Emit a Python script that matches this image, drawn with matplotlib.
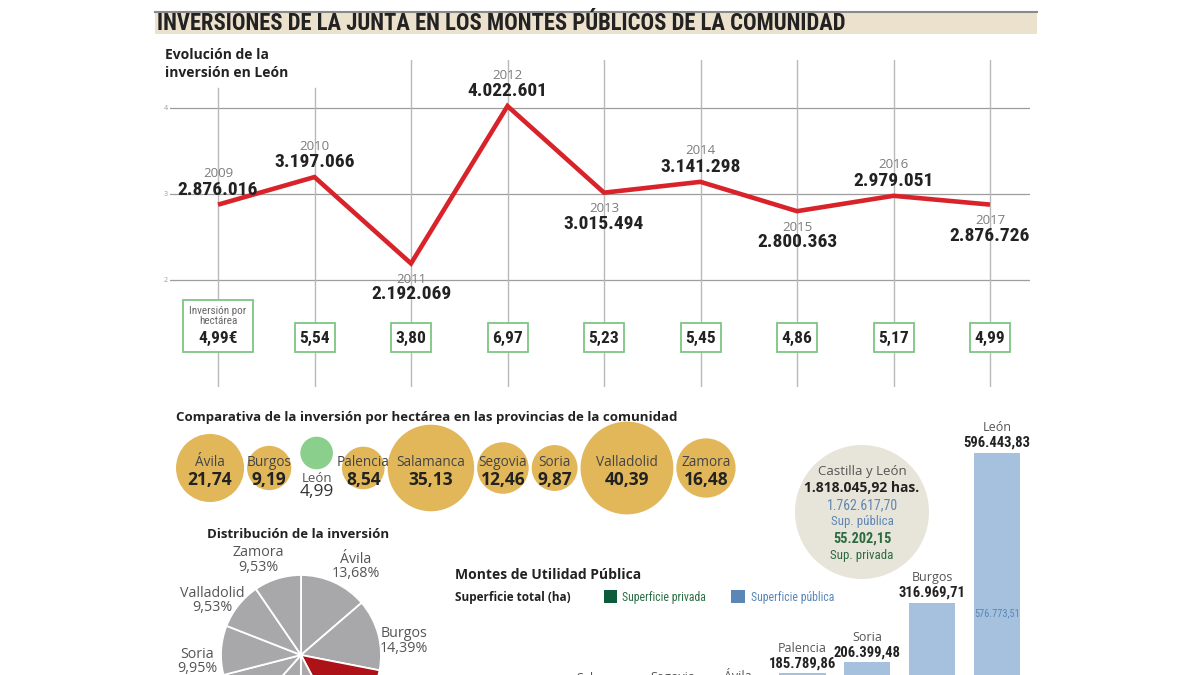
import matplotlib
matplotlib.use("Agg")
import matplotlib.pyplot as plt
from matplotlib.patches import Rectangle, Circle
from matplotlib import font_manager as fm
import numpy as np

# ---------------- data ----------------
years = ["2009", "2010", "2011", "2012", "2013", "2014", "2015", "2016", "2017"]
investment_eur = [2876016, 3197066, 2192069, 4022601, 3015494, 3141298, 2800363, 2979051, 2876726]
investment_per_ha = [4.99, 5.54, 3.80, 6.97, 5.23, 5.45, 4.86, 5.17, 4.99]

provinces = ["Ávila", "Burgos", "León", "Palencia", "Salamanca", "Segovia", "Soria", "Valladolid", "Zamora"]
province_per_ha = [21.74, 9.19, 4.99, 8.54, 35.13, 12.46, 9.87, 40.39, 16.48]
investment_share = [13.68, 14.39, 14.21, 7.84, 11.47, 9.40, 9.95, 9.53, 9.53]

bar_provinces = ["Valladolid", "Zamora", "Salamanca", "Segovia", "Ávila", "Palencia", "Soria", "Burgos", "León"]
surface_total = [51309.39, 64550.20, 129880.55, 132420.10, 134281.80, 185789.86, 206399.48, 316969.71, 596443.83]
surface_private = [1200.00, 2350.50, 3100.25, 4020.40, 3560.18, 5410.30, 6890.20, 9000.00, 19670.32]

cyl_total = 1818045.92
cyl_public = 1762617.70
cyl_private = 55202.15

# ---------------- fonts ----------------
_avail = {f.name for f in fm.fontManager.ttflist}


def pick(cands):
    for c in cands:
        if c in _avail:
            return c
    return "DejaVu Sans"


NARROW = pick(["Liberation Sans Narrow", "Roboto Condensed", "DejaVu Sans"])
SANS = pick(["Open Sans", "Lato", "DejaVu Sans"])
plt.rcParams["font.family"] = [SANS, "DejaVu Sans"]
NARROW_F = [NARROW, "DejaVu Sans"]


def es_num(v, dec=0):
    s = f"{v:,.{dec}f}"
    return s.replace(",", "X").replace(".", ",").replace("X", ".")


# ---------------- figure ----------------
W, H = 1200, 675
fig = plt.figure(figsize=(12, 6.75), dpi=100)
fig.patch.set_facecolor("white")


def px_axes(l, t, r, b):
    ax = fig.add_axes([l / W, 1 - b / H, (r - l) / W, (b - t) / H])
    ax.set_axis_off()
    ax.patch.set_alpha(0)
    return ax


canvas = px_axes(0, 0, W, H)
canvas.set_xlim(0, W)
canvas.set_ylim(H, 0)

DARK = "#222222"
GREY = "#555555"

# title band
canvas.add_patch(Rectangle((155, 12), 882, 22, facecolor="#ebe1cd", edgecolor="none"))
canvas.plot([155, 1037], [11.5, 11.5], color="#8a8a8a", lw=1.5)
canvas.text(157, 23.5, "INVERSIONES DE LA JUNTA EN LOS MONTES PÚBLICOS DE LA COMUNIDAD",
            family=NARROW_F, fontweight="bold", fontsize=16.3, color=DARK, va="center", ha="left")

# ---------------- line chart ----------------
X0, DX = 218, 96.5
Y4, DY = 108, 86


def v_of(py):
    return 4 - (py - Y4) / DY


lc = px_axes(170, 60, 1030, 387)
lc.set_xlim(-(X0 - 170) / DX, (1030 - X0) / DX)
lc.set_ylim(v_of(387), v_of(60))
xs = np.arange(len(years))
vals = np.array(investment_eur) / 1e6

for g in (2, 3, 4):
    lc.axhline(g, color="#9d9d9d", lw=0.9, zorder=1)
    lc.text(lc.get_xlim()[0] - 0.02, g, str(g), ha="right", va="center", fontsize=5, color="#9a9a9a")
for i in xs:
    top = v_of(88) if i < 2 else v_of(60)
    lc.plot([i, i], [v_of(387), top], color="#b9b9b9", lw=1.0, zorder=1)

lc.plot(xs, vals, color="#d9232b", lw=3.3, zorder=3, solid_joinstyle="miter", solid_capstyle="butt")

label_side = [1, 1, -1, 1, -1, 1, -1, 1, -1]
for i, (yr, inv, v, s) in enumerate(zip(years, investment_eur, vals, label_side)):
    if s > 0:
        yoff, voff = 31, 15
    else:
        yoff, voff = -16, -31
    lc.annotate(yr, (i, v), xytext=(0, yoff * 0.72), textcoords="offset points",
                ha="center", va="center", fontsize=9.5, color="#7c7c7c", zorder=5)
    lc.annotate(es_num(inv), (i, v), xytext=(0, voff * 0.72), textcoords="offset points",
                ha="center", va="center", fontsize=14, fontweight="bold", family=NARROW_F,
                color=DARK, zorder=5)

for i, val in enumerate(investment_per_ha):
    if i == 0:
        w, top = 70 / DX, v_of(300)
    else:
        w, top = 40 / DX, v_of(323)
    bot = v_of(352)
    lc.add_patch(Rectangle((i - w / 2, bot), w, top - bot, facecolor="white",
                           edgecolor="#7fc583", lw=1.3, zorder=4))
    label = es_num(val, 2) + ("€" if i == 0 else "")
    lc.text(i, v_of(338), label, ha="center", va="center", fontsize=12.5, fontweight="bold",
            family=NARROW_F, color=DARK, zorder=5)
    if i == 0:
        lc.text(i, v_of(316), "Inversión por\nhectárea", ha="center", va="center", fontsize=8,
                family=NARROW_F, color="#666666", linespacing=0.95, zorder=5)

canvas.text(165, 64, "Evolución de la\ninversión en León", va="center", ha="left", fontsize=10,
            fontweight="bold", color=DARK, linespacing=1.3)

# ---------------- bubbles ----------------
canvas.text(176, 418, "Comparativa de la inversión por hectárea en las provincias de la comunidad",
            fontsize=9.5, fontweight="bold", color=DARK, va="center", ha="left")
K = 7.3
radii = K * np.sqrt(province_per_ha)
cy = 468
x = 176.0
for i, (name, v, r) in enumerate(zip(provinces, province_per_ha, radii)):
    if i > 0:
        x += 9 if (name == "León" or provinces[i - 1] == "León") else 3
    x += r
    if name == "León":
        canvas.add_patch(Circle((x, 453), r, facecolor="#8bcf8c", edgecolor="none"))
        canvas.text(x, 478, name, ha="center", va="center", fontsize=9.5, color=GREY)
        canvas.text(x, 492, es_num(v, 2), ha="center", va="center", fontsize=12.5, color="#333333")
    else:
        canvas.add_patch(Circle((x, cy), r, facecolor="#e2b75a", edgecolor="none"))
        canvas.text(x, cy - 5, name, ha="center", va="center", fontsize=9.8, color="#444444")
        canvas.text(x, cy + 12, es_num(v, 2), ha="center", va="center", fontsize=12.5,
                    fontweight="bold", color=DARK)
    x += r

# ---------------- pie ----------------
canvas.text(207, 535, "Distribución de la inversión", fontsize=9.5, fontweight="bold",
            color=DARK, va="center", ha="left")
PCX, PCY, PR = 301, 655, 80
pa = px_axes(PCX - 1.4 * PR, PCY - 1.4 * PR, PCX + 1.4 * PR, PCY + 1.4 * PR)
pie_colors = ["#ad1218" if p == "León" else "#a8a8aa" for p in provinces]
wedges, _ = pa.pie(investment_share, colors=pie_colors, startangle=90, counterclock=False,
                   radius=1, wedgeprops=dict(edgecolor="white", linewidth=1.3))
pa.set_xlim(-1.4, 1.4)
pa.set_ylim(-1.4, 1.4)
pa.set_axis_off()
for wdg, name, sh in zip(wedges, provinces, investment_share):
    mid = (wdg.theta1 + wdg.theta2) / 2
    side = 1 if np.cos(np.deg2rad(mid)) < 0 else -1
    th = np.deg2rad(mid + side * 7)
    lx, ly = 1.3 * np.cos(th), 1.3 * np.sin(th)
    if PCY - ly * PR - 14 > H:      # entirely below the visible page
        continue
    pa.text(lx, ly, f"{name}\n{es_num(sh, 2)}%", ha="center",
            va="center", fontsize=10.3, color=GREY, linespacing=0.95)

# ---------------- Castilla y León circle ----------------
canvas.add_patch(Circle((862, 512), 67, facecolor="#e7e4d9", edgecolor="none"))
canvas.text(862, 471, "Castilla y León", ha="center", va="center", fontsize=9.5, color=GREY)
canvas.text(862, 488, es_num(cyl_total, 2) + " has.", ha="center", va="center", fontsize=10,
            fontweight="bold", color=DARK)
canvas.text(862, 505, es_num(cyl_public, 2), ha="center", va="center", fontsize=10,
            family=NARROW_F, color="#5f86b3")
canvas.text(862, 521, "Sup. pública", ha="center", va="center", fontsize=9.3,
            family=NARROW_F, color="#5f86b3")
canvas.text(862, 539, es_num(cyl_private, 2), ha="center", va="center", fontsize=10.3,
            family=NARROW_F, fontweight="bold", color="#2b6b40")
canvas.text(862, 555, "Sup. privada", ha="center", va="center", fontsize=9.3,
            family=NARROW_F, color="#2b6b40")

# ---------------- bars ----------------
canvas.text(455, 575, "Montes de Utilidad Pública", fontsize=10, fontweight="bold",
            color=DARK, va="center", ha="left")
canvas.text(455, 597, "Superficie total (ha)", fontsize=8.5, fontweight="bold",
            color=DARK, va="center", ha="left")
PRIV_C, PUB_C, PUB_LEG = "#0e5b3b", "#a6c1dd", "#5b87b6"
canvas.add_patch(Rectangle((604, 590), 13, 13, facecolor=PRIV_C, edgecolor="none"))
canvas.text(622, 597, "Superficie privada", fontsize=8.5, family=NARROW_F, color="#2b6e44",
            va="center", ha="left")
canvas.add_patch(Rectangle((731, 590), 14, 13, facecolor=PUB_LEG, edgecolor="none"))
canvas.text(751, 597, "Superficie pública", fontsize=8.5, family=NARROW_F, color="#5a85b8",
            va="center", ha="left")

BX0, BDX = 478, 64.9
BASE, HA_PER_PX = 773.1, 1863.2
bx = px_axes(440, 400, 1040, BASE)
bx.set_xlim(-(BX0 - 440) / BDX, (1040 - BX0) / BDX)
bx.set_ylim(0, (BASE - 400) * HA_PER_PX)
pos = np.arange(len(bar_provinces))
tot = np.array(surface_total)
priv = np.array(surface_private)
pub = tot - priv
bx.bar(pos, priv, width=0.71, color=PRIV_C)
bx.bar(pos, pub, bottom=priv, width=0.71, color=PUB_C)
for i, (name, t, p) in enumerate(zip(bar_provinces, tot, pub)):
    top_px = BASE - t / HA_PER_PX
    if top_px - 10 - 7 < H:
        bx.annotate(es_num(t, 2), (i, t), xytext=(0, 10 * 0.72), textcoords="offset points",
                    ha="center", va="center", fontsize=10.5, fontweight="bold", family=NARROW_F,
                    color=DARK)
    if top_px - 25 - 6 < H:
        bx.annotate(name, (i, t), xytext=(0, 25 * 0.72), textcoords="offset points",
                    ha="center", va="center", fontsize=9, color=GREY)
    if BASE - (t / 2) / HA_PER_PX < H - 5:
        bx.text(i, t / 2, es_num(p, 2), ha="center", va="center", fontsize=7.5,
                family=NARROW_F, color="#5c86b5")

fig.savefig("out.png", dpi=100, facecolor="white")
